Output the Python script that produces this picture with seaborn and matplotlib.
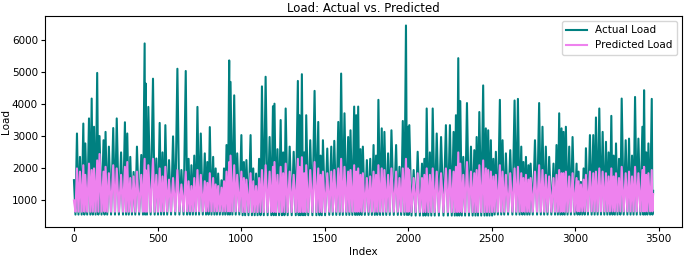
import numpy as np
import pandas as pd
import matplotlib
matplotlib.use("Agg")
import matplotlib.pyplot as plt
import seaborn as sns

# Daily peak positions (index) and actual peak loads
spike_idx = [0, 18, 36, 56, 68, 90, 106, 120, 139, 153, 177, 189, 209, 235, 256, 282, 305, 319, 337, 357,
             377, 403, 423, 429, 445, 473, 493, 513, 530, 547, 569, 593, 619, 643, 669, 686, 703, 720, 739, 759,
             783, 798, 813, 833, 848, 863, 883, 898, 913, 929, 937, 959, 977, 1002, 1017, 1032, 1057, 1073, 1090, 1108,
             1125, 1147, 1171, 1191, 1200, 1218, 1237, 1252, 1267, 1291, 1315, 1340, 1350, 1364, 1378, 1390, 1414, 1440, 1462, 1476,
             1490, 1516, 1540, 1558, 1582, 1599, 1619, 1641, 1655, 1677, 1689, 1701, 1715, 1729, 1753, 1773, 1793, 1808, 1822, 1842,
             1858, 1880, 1900, 1928, 1948, 1968, 1987, 1999, 2007, 2033, 2057, 2083, 2097, 2111, 2130, 2147, 2171, 2197, 2226, 2250,
             2272, 2286, 2300, 2312, 2330, 2352, 2376, 2396, 2410, 2426, 2449, 2465, 2479, 2495, 2510, 2525, 2549, 2565, 2585, 2611,
             2637, 2657, 2677, 2690, 2705, 2720, 2733, 2759, 2784, 2804, 2824, 2844, 2870, 2888, 2904, 2918, 2930, 2944, 2964, 2984,
             3008, 3020, 3034, 3050, 3064, 3088, 3108, 3124, 3144, 3164, 3184, 3200, 3216, 3230, 3244, 3262, 3278, 3302, 3322, 3340,
             3358, 3378, 3402, 3412, 3425, 3438, 3458, 3466]
actual_peak = [1634, 3090, 2360, 3400, 2780, 3560, 4180, 3300, 4980, 3010, 2880, 3140, 2680, 3260, 3560, 2500, 3440, 3090, 2360, 1890,
               2680, 2420, 5900, 4650, 3920, 4800, 2310, 3420, 2500, 3350, 2260, 3000, 5110, 1950, 5040, 2300, 2100, 2400, 3920, 3090,
               2470, 2200, 3290, 2360, 2000, 1840, 1630, 2000, 2730, 5370, 4700, 4280, 2470, 3040, 2200, 2260, 3040, 2000, 1840, 2300,
               4560, 4860, 2980, 3940, 4020, 2600, 3510, 2500, 3870, 2680, 2520, 4730, 3660, 4940, 2500, 3660, 2880, 4420, 3450, 2400,
               2880, 2620, 2680, 2860, 3450, 4960, 3720, 2980, 3190, 3930, 3660, 3930, 2600, 2680, 2260, 2300, 2730, 2400, 4140, 3250,
               3140, 2470, 3190, 2730, 2050, 3480, 6460, 3300, 3350, 1950, 2520, 2150, 2300, 3870, 2500, 3870, 3090, 2980, 3350, 3350,
               3140, 3660, 5440, 4100, 2360, 4040, 2680, 2570, 2980, 3760, 4590, 3250, 3190, 2880, 2300, 2520, 4140, 2880, 2470, 2570,
               4120, 4170, 2680, 2200, 2360, 2100, 2150, 2880, 4040, 3300, 2680, 2360, 2150, 2730, 3720, 3250, 3140, 3300, 2680, 2980,
               2150, 1900, 1580, 2000, 2630, 3040, 3040, 3590, 3870, 3140, 2830, 2500, 3640, 2400, 2780, 2300, 4180, 2880, 2930, 2400,
               4230, 2930, 3300, 4440, 2500, 2780, 4170, 1300]
# Predicted daily peaks at the same positions
predicted_peak = [1000, 2000, 1900, 2100, 1800, 2150, 1950, 2000, 2250, 2450, 1900, 2050, 1850, 2100, 2000, 1800, 2050, 2200, 1700, 1750,
                  1900, 1800, 2300, 1950, 2100, 2300, 1800, 2000, 1750, 2050, 1650, 1700, 1950, 1500, 1900, 1600, 1450, 1700, 1950, 1800,
                  1600, 1550, 1850, 1700, 1500, 1450, 1400, 1600, 1900, 2200, 2400, 2100, 1800, 1900, 1700, 1650, 1850, 1600, 1450, 1700,
                  1950, 2100, 1900, 2050, 2200, 1800, 2050, 1850, 2150, 1900, 1800, 2300, 2050, 2350, 1850, 2100, 1950, 2200, 2000, 1800,
                  1900, 1850, 1900, 1950, 2000, 2300, 2050, 1900, 1950, 2100, 1900, 2000, 1800, 1850, 1700, 1750, 1900, 1800, 2100, 2000,
                  1950, 1800, 2000, 1900, 1700, 2000, 2300, 2000, 1950, 1700, 1850, 1700, 1800, 2000, 1800, 2000, 1900, 1850, 2000, 1950,
                  1900, 2050, 2500, 2150, 1800, 2200, 1900, 1850, 1950, 2100, 2250, 2000, 1950, 1900, 1750, 1800, 2100, 1900, 1800, 1850,
                  2000, 2050, 1850, 1700, 1800, 1650, 1700, 1900, 2100, 1950, 1800, 1750, 1700, 1800, 1950, 1850, 1850, 1900, 1750, 1850,
                  1700, 1600, 1500, 1650, 1800, 1900, 1850, 1900, 2000, 1900, 1850, 1750, 2000, 1750, 1850, 1700, 2050, 1850, 1900, 1750,
                  2050, 1850, 1950, 2050, 1800, 1850, 1950, 1200]
# Night-time minimum levels per 500-index block
block_start = [0, 500, 1000, 1500, 2000, 2500, 3000]
actual_low = [560, 560, 540, 550, 530, 560, 560]
predicted_low = [650, 660, 640, 650, 640, 650, 660]


def block(i):
    return max(k for k, s in enumerate(block_start) if s <= i)


# Build the two series: daily peaks joined by night troughs
idx_all, act_all, pred_all = [], [], []
for j in range(len(spike_idx)):
    idx_all.append(spike_idx[j]); act_all.append(actual_peak[j]); pred_all.append(predicted_peak[j])
    if j + 1 < len(spike_idx):
        a, b = spike_idx[j], spike_idx[j + 1]
        k = block(a)
        idx_all.append((a + b) / 2); act_all.append(actual_low[k]); pred_all.append(predicted_low[k])
df = pd.DataFrame({"Index": idx_all, "Actual": act_all, "Predicted": pred_all})

fig = plt.figure(figsize=(6.85, 2.56), dpi=100)
ax = fig.add_axes([0.0657, 0.113, 0.930, 0.825])
sns.lineplot(data=df, x="Index", y="Actual", color="teal", label="Actual Load",
             estimator=None, sort=True, linewidth=1.5, ax=ax)
sns.lineplot(data=df, x="Index", y="Predicted", color="violet", label="Predicted Load",
             estimator=None, sort=True, linewidth=1.5, ax=ax)
ax.set_ylim(170, 6760)
ax.set_title("Load: Actual vs. Predicted", fontsize=8.5, pad=3)
ax.set_xlabel("Index", fontsize=7.5, labelpad=2)
ax.set_ylabel("Load", fontsize=7.5, labelpad=1)
ax.tick_params(labelsize=7.5, length=3, pad=2)
ax.set_xticks([0, 500, 1000, 1500, 2000, 2500, 3000, 3500])
ax.set_yticks([1000, 2000, 3000, 4000, 5000, 6000])
ax.legend(loc="upper right", fontsize=7.5, frameon=True)
fig.savefig("out.png", dpi=100)
